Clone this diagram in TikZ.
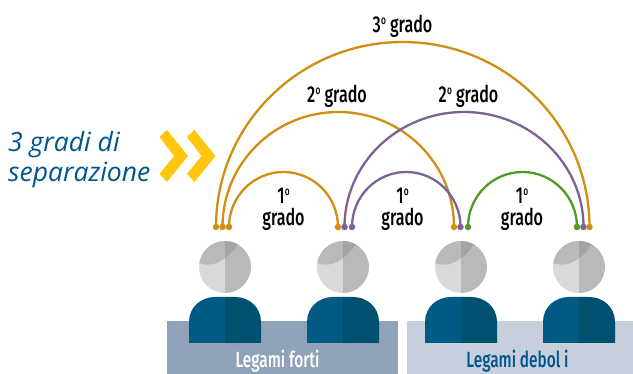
\documentclass[tikz,border=0pt]{standalone}
\usepackage{fontspec}
\setmainfont{Fira Sans}
\newfontfamily\condfont[FakeStretch=0.70,UprightFont={* Medium}]{Fira Sans}
\newfontfamily\itfont{Open Sans}
\newcommand{\ord}{\kern0.3pt\raisebox{0.36em}{\fontsize{12}{12}\selectfont o}}
\definecolor{orangeC}{HTML}{D08E12}
\definecolor{purpleC}{HTML}{7B6298}
\definecolor{greenC}{HTML}{4F9A22}
\definecolor{blueL}{HTML}{005A84}
\definecolor{blueD}{HTML}{00516F}
\definecolor{headA}{HTML}{D8D9DB}
\definecolor{headB}{HTML}{B8B9BB}
\definecolor{headC}{HTML}{A3A4A6}
\definecolor{bandA}{HTML}{8FA2B9}
\definecolor{bandB}{HTML}{C7CEDC}
\definecolor{textB}{HTML}{00558C}
\definecolor{yell}{HTML}{FFC60B}
\tikzset{
  x=1pt,y=-1pt,
  dot/.style={circle,fill=#1,inner sep=0pt,minimum size=6.5pt},
  link/.style={draw=#1,line width=2.3pt},
  lab/.style={font=\condfont\fontsize{23}{23}\selectfont,anchor=base,inner sep=0pt,text=black},
  band/.style={font=\condfont\fontsize{22}{22}\selectfont,anchor=base,inner sep=0pt},
  side/.style={font=\itfont\itshape\fontsize{26.5}{26.5}\selectfont,anchor=base west,inner sep=0pt,text=textB},
  chev/.style={fill=yell}
}
\newcommand{\person}[1]{%
  \begin{scope}[shift={(#1,0)}]
    % body
    \fill[blueL] (0,343) -- (-36,343) -- (-36,322) .. controls (-36,307) and (-24,297) .. (-10,297) -- (0,297) -- cycle;
    \fill[blueD] (0,343) -- (36,343) -- (36,322) .. controls (36,307) and (24,297) .. (10,297) -- (0,297) -- cycle;
    % head
    \begin{scope}
      \clip (0,267) circle[radius=26];
      \fill[headA] (-27,240) rectangle (0,294);
      \fill[headB] (0,240) rectangle (27,294);
      \fill[headB] (-27,240) -- (0,240) -- (0,258) .. controls (-8,265) and (-18,266) .. (-27,263) -- cycle;
      \fill[headC] (0,240) -- (27,240) -- (12,245) .. controls (9,251) and (5,254) .. (0,258) -- cycle;
    \end{scope}
  \end{scope}}
\begin{document}
\begin{tikzpicture}
\useasboundingbox (0,0) rectangle (633,374);
% bands
\fill[bandA] (167,321) rectangle (398,374);
\fill[bandB] (407,321) rectangle (633,374);
\person{225}\person{343}\person{461}\person{579}
\node[band,text=white] (lf) at (277.5,368) {Legami forti};
\node[band,text=textB] (ld) at (517.5,368) {Legami debol i};
% dots
\foreach \n/\x/\c in {a1/216/orangeC,a2/222.5/orangeC,a3/229/orangeC,
  b1/338/orangeC,b2/344.5/purpleC,b3/352/purpleC,
  c1/454/orangeC,c2/460.5/purpleC,c3/468/greenC,
  d1/577/greenC,d2/583.5/purpleC,d3/589.5/orangeC}
  \node[dot=\c] (\n) at (\x,227) {};
% arcs
\draw[link=orangeC] (a1.center) arc[start angle=180,end angle=0,x radius=186.75,y radius=-185];
\draw[link=orangeC] (a2.center) arc[start angle=180,end angle=0,x radius=115.75,y radius=-115];
\draw[link=purpleC] (b2.center) arc[start angle=180,end angle=0,x radius=119.5,y radius=-115];
\draw[link=orangeC] (a3.center) arc[start angle=180,end angle=0,x radius=54.5,y radius=-55];
\draw[link=purpleC] (b3.center) arc[start angle=180,end angle=0,x radius=54.25,y radius=-55];
\draw[link=greenC] (c3.center) arc[start angle=180,end angle=0,x radius=54.5,y radius=-55];
% labels
\node[lab] (t3) at (402.5,33) {3\ord{} grado};
\node[lab] (t2a) at (337,103) {2\ord{} grado};
\node[lab] (t2b) at (468.5,103) {2\ord{} grado};
\foreach \n/\x in {p/283.5,q/402.5,r/522}{
  \node[lab] (\n1) at (\x,204) {1\ord};
  \node[lab] (\n2) at (\x,226) {grado};
}
% side
\node[side] (s1) at (8,152) {3 gradi di};
\node[side] (s2) at (8,182) {separazione};
\fill[chev] (159.5,137) -- (167,130) -- (188,156) -- (167,182) -- (159.5,174) -- (174,156) -- cycle;
\fill[chev] (187,137) -- (194.5,130) -- (215.5,156) -- (194.5,182) -- (187,174) -- (201.5,156) -- cycle;
\end{tikzpicture}
\end{document}
